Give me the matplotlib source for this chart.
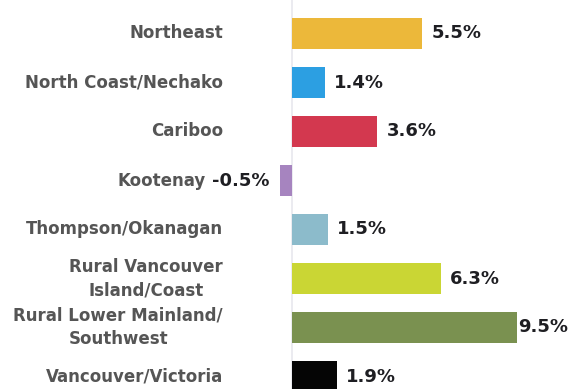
import matplotlib
matplotlib.use("Agg")
import matplotlib.pyplot as plt

# Regional growth by BC development region
regions = [
    "Northeast",
    "North Coast/Nechako",
    "Cariboo",
    "Kootenay",
    "Thompson/Okanagan",
    "Rural Vancouver\nIsland/Coast",
    "Rural Lower Mainland/\nSouthwest",
    "Vancouver/Victoria",
]
growth = [5.5, 1.4, 3.6, -0.5, 1.5, 6.3, 9.5, 1.9]
value_labels = ["5.5%", "1.4%", "3.6%", "-0.5%", "1.5%", "6.3%", "9.5%", "1.9%"]
colors = ["#ECB83A", "#2C9FE2", "#D3384F", "#A684BF", "#8CBBCB",
          "#CAD634", "#7A9150", "#050505"]

plt.rcParams["font.family"] = ["DejaVu Sans"]

fig = plt.figure(figsize=(5.73, 3.89), dpi=100)
ax = fig.add_axes([0, 0, 1, 1])

px_per_unit = 23.7
zero_px = 292
W, H = 573, 389
row_px = 49.0
first_row_px = 33.5

ax.set_xlim(-zero_px / px_per_unit, (W - zero_px) / px_per_unit)
ax.set_ylim((H - first_row_px) / row_px, -first_row_px / row_px)
ax.axis("off")

ax.axvline(0, color="#E7E7EE", lw=1.2, zorder=0)

ypos = list(range(len(regions)))
ax.barh(ypos, growth, height=0.62, color=colors, zorder=2)

xmax = max(growth)
for i, (v, lab, name) in enumerate(zip(growth, value_labels, regions)):
    if v >= 0:
        pad = 1 if v == xmax else 9
        ax.annotate(lab, xy=(v, i), xytext=(pad, 0), textcoords="offset pixels",
                    ha="left", va="center", fontsize=13, fontweight="bold",
                    color="#1E1E22")
        ax.annotate(name, xy=(0, i), xytext=(-69, 0), textcoords="offset pixels",
                    ha="right", va="center", multialignment="center",
                    fontsize=12, fontweight="bold", color="#555555",
                    linespacing=1.38)
    else:
        vt = ax.annotate(lab, xy=(v, i), xytext=(-11, 0), textcoords="offset pixels",
                         ha="right", va="center", fontsize=13, fontweight="bold",
                         color="#1E1E22")
        ax.annotate(name, xy=(0, 0.5), xycoords=vt, xytext=(-6, 0),
                    textcoords="offset pixels", ha="right", va="center",
                    multialignment="center", fontsize=12, fontweight="bold",
                    color="#555555")

fig.savefig("out.png", dpi=100)
